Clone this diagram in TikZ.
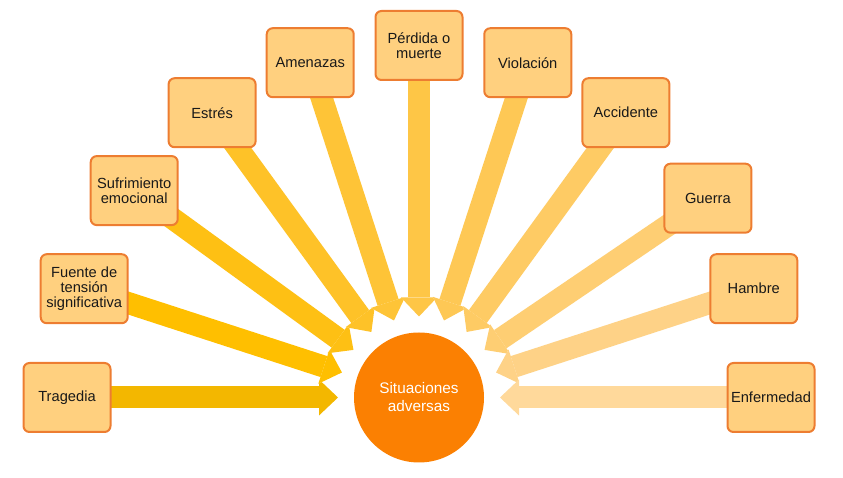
\documentclass[tikz,border=0pt]{standalone}
\usepackage{fontspec}
\setmainfont{Liberation Sans}
\usetikzlibrary{arrows.meta,backgrounds,calc}
\definecolor{boxfill}{RGB}{255,208,127}
\definecolor{boxline}{RGB}{237,125,49}
\definecolor{hubcol}{RGB}{251,128,2}
\definecolor{ca}{RGB}{243,183,0}
\definecolor{cb}{RGB}{255,191,0}
\definecolor{cc}{RGB}{254,192,20}
\definecolor{cd}{RGB}{254,194,40}
\definecolor{ce}{RGB}{254,196,55}
\definecolor{cf}{RGB}{254,198,70}
\definecolor{cg}{RGB}{254,200,85}
\definecolor{ch}{RGB}{254,203,100}
\definecolor{ci}{RGB}{254,206,115}
\definecolor{cj}{RGB}{254,210,135}
\definecolor{ck}{RGB}{255,217,155}
\begin{document}
\begin{tikzpicture}[x=0.75pt,y=0.75pt,
  box/.style={draw=boxline, fill=boxfill, line width=1.5pt, rounded corners=4.5pt,
    minimum width=65.25pt, minimum height=51.75pt, align=center, inner sep=1pt,
    font=\fontsize{11}{11}\selectfont, text=black!90},
  hubnode/.style={circle, fill=hubcol, minimum size=97.5pt, text=white, align=center,
    font=\fontsize{11.5}{13.5}\selectfont},
  fat/.style={line width=16.5pt, -{Triangle[length=14.25pt,width=27pt,line width=0pt]}},
  fatedge/.style={draw=white, line width=18.5pt, -{Triangle[length=16pt,width=30pt,line width=0pt]}}]
\useasboundingbox (0,0) rectangle (843,478);
\coordinate (C) at (419,80.5);
\node[hubnode] (hub) at (C) {Situaciones\\adversas};
\node[box] (b0) at ($(C)+(180:352)$) {Tragedia};
\node[box] (b1) at ($(C)+(162:352)$) {Fuente de\\tensión\\significativa};
\node[box] (b2) at ($(C)+(144:352)$) {Sufrimiento\\emocional};
\node[box] (b3) at ($(C)+(126:352)$) {Estrés};
\node[box] (b4) at ($(C)+(108:352)$) {Amenazas};
\node[box] (b5) at ($(C)+(90:352)$) {Pérdida o\\muerte};
\node[box] (b6) at ($(C)+(72:352)$) {Violación};
\node[box] (b7) at ($(C)+(54:352)$) {Accidente};
\node[box] (b8) at ($(C)+(34.6:351)$) {Guerra};
\node[box] (b9) at ($(C)+(18:352)$) {Hambre};
\node[box] (b10) at ($(C)+(0:352)$) {Enfermedad};
\foreach \i/\a in {0/180,1/162,2/144,3/126,4/108,5/90,6/72,7/54,8/36,9/18,10/0}{
  \coordinate (t\i) at ($(C)+(\a:81)$);
}
\begin{scope}[on background layer]
  \foreach \i/\c in {0/ca,1/cb,2/cc,3/cd,4/ce,5/cf,6/cg,7/ch,8/ci,9/cj,10/ck}{
    \draw[fatedge] (b\i.center) -- (t\i);
    \draw[fat, draw=\c] (b\i.center) -- (t\i);
  }
\end{scope}
\end{tikzpicture}
\end{document}
